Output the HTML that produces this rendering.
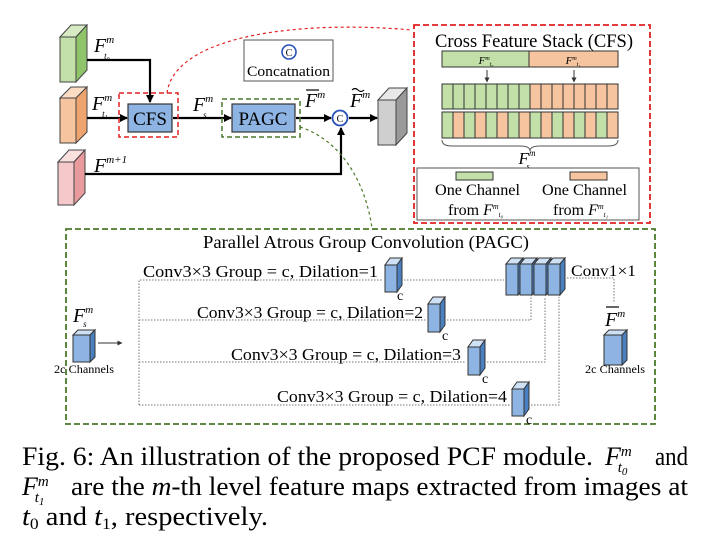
<!DOCTYPE html>
<html><head><meta charset="utf-8"><style>
html,body{margin:0;padding:0;background:#fff;}
svg{display:block;font-family:"Liberation Serif",serif;}
</style></head><body>
<svg width="704" height="553" viewBox="0 0 704 553" xmlns="http://www.w3.org/2000/svg">
<defs>
<marker id="ah" markerWidth="8" markerHeight="8" refX="7" refY="4" orient="auto" markerUnits="userSpaceOnUse"><path d="M0,0 L8,4 L0,8 z" fill="#000"/></marker>
<marker id="as" markerWidth="5" markerHeight="5" refX="4.5" refY="2.5" orient="auto" markerUnits="userSpaceOnUse"><path d="M0,0 L5,2.5 L0,5 z" fill="#333"/></marker>
</defs>

<g stroke="#444" stroke-width="1">
<polygon points="60,37 71,25 87,25 76,37" fill="#d6ebc4"/><polygon points="76,37 87,25 87,70 76,82" fill="#8fc46a"/><rect x="60" y="37" width="16" height="45" fill="#c2e0a8"/>
<polygon points="60,98 71,87 87,87 76,98" fill="#fbdcc4"/><polygon points="76,98 87,87 87,132 76,143" fill="#eea46e"/><rect x="60" y="98" width="16" height="45" fill="#f6c49e"/>
<polygon points="58,162 69,150 85,150 74,162" fill="#fbe0e0"/><polygon points="74,162 85,150 85,193 74,205" fill="#e99a9c"/><rect x="58" y="162" width="16" height="43" fill="#f5c8ca"/>
<polygon points="378,100 389,88 407,88 396,100" fill="#e8e8e8"/><polygon points="396,100 407,88 407,133 396,145" fill="#9a9a9a"/><rect x="378" y="100" width="18" height="45" fill="#cfcfcf"/>
</g>
<g stroke="#000" stroke-width="2.2" fill="none">
<polyline points="87,60 150,60 150,102" marker-end="url(#ah)"/>
<line x1="87" y1="118" x2="127" y2="118" marker-end="url(#ah)"/>
<line x1="173" y1="118" x2="231" y2="118" marker-end="url(#ah)"/>
<line x1="296" y1="118" x2="331" y2="118" marker-end="url(#ah)"/>
<line x1="349" y1="118" x2="377" y2="118" marker-end="url(#ah)"/>
<polyline points="85,174 341,174 341,128" marker-end="url(#ah)"/>
</g>
<rect x="119" y="93" width="59" height="44" fill="none" stroke="#e02020" stroke-width="1.5" stroke-dasharray="5,3"/>
<rect x="128" y="104" width="44" height="28" fill="#8db4e2" stroke="#333" stroke-width="1.2"/>
<text x="150" y="125" font-size="19" text-anchor="middle">CFS</text>
<rect x="222" y="99" width="78" height="38" fill="none" stroke="#4a7a2a" stroke-width="1.5" stroke-dasharray="5,3"/>
<rect x="232" y="104" width="63" height="28" fill="#8db4e2" stroke="#333" stroke-width="1.2"/>
<text x="263" y="125" font-size="19" text-anchor="middle">PAGC</text>
<circle cx="340" cy="118" r="7.5" fill="#fff" stroke="#2850b8" stroke-width="1.8"/>
<text x="340" y="122" font-size="10" text-anchor="middle">C</text>
<rect x="244" y="40" width="89" height="41" fill="#fff" stroke="#555" stroke-width="1"/>
<circle cx="289" cy="52" r="7" fill="#fff" stroke="#2850b8" stroke-width="1.6"/>
<text x="289" y="56" font-size="10" text-anchor="middle">C</text>
<text x="288.5" y="76" font-size="15" text-anchor="middle" textLength="83" lengthAdjust="spacingAndGlyphs">Concatnation</text>
<g font-style="italic" font-size="20">
<text x="94" y="52">F<tspan font-size="11" dy="-9">m</tspan><tspan font-size="9" dx="-10" dy="16">t₀</tspan></text>
<text x="92" y="110">F<tspan font-size="11" dy="-9">m</tspan><tspan font-size="9" dx="-10" dy="16">t₁</tspan></text>
<text x="94" y="172">F<tspan font-size="11" dy="-9">m+1</tspan></text>
<text x="193" y="111">F<tspan font-size="11" dy="-9">m</tspan><tspan font-size="9" dx="-10" dy="16">s</tspan></text>
<text x="305" y="107">F<tspan font-size="11" dy="-9">m</tspan></text>
<text x="350" y="107">F<tspan font-size="11" dy="-9">m</tspan></text>
</g>
<line x1="306" y1="90" x2="319" y2="90" stroke="#000" stroke-width="1.2"/>
<path d="M352,90 q3,-3 6,0 t6,0" stroke="#000" fill="none" stroke-width="1.2"/>
<path d="M167,93 C175,35 300,20 412,30" fill="none" stroke="#e02020" stroke-width="1.2" stroke-dasharray="3,3"/>
<path d="M300,127 C340,140 365,180 372,228" fill="none" stroke="#4a7a2a" stroke-width="1.2" stroke-dasharray="3,3"/>

<rect x="414" y="25" width="236" height="198" fill="#fff" stroke="#e02020" stroke-width="1.8" stroke-dasharray="6,3"/>
<text x="435" y="47" font-size="18.5" textLength="198" lengthAdjust="spacingAndGlyphs">Cross Feature Stack (CFS)</text>
<rect x="442" y="51" width="87" height="16" fill="#c2e0a8" stroke="#333"/>
<rect x="529" y="51" width="89" height="16" fill="#f6c49e" stroke="#333"/>
<text x="486" y="64" font-size="11" font-style="italic" text-anchor="middle">F<tspan font-size="6" dy="-4">m</tspan><tspan font-size="6" dy="6">t₀</tspan></text>
<text x="573" y="64" font-size="11" font-style="italic" text-anchor="middle">F<tspan font-size="6" dy="-4">m</tspan><tspan font-size="6" dy="6">t₁</tspan></text>
<line x1="487" y1="70" x2="487" y2="82" stroke="#333" marker-end="url(#as)"/>
<line x1="574" y1="70" x2="574" y2="82" stroke="#333" marker-end="url(#as)"/>
<g stroke="#333" stroke-width="1">
<rect x="442" y="84" width="11" height="25" fill="#c2e0a8"/><rect x="453" y="84" width="11" height="25" fill="#c2e0a8"/><rect x="464" y="84" width="11" height="25" fill="#c2e0a8"/><rect x="475" y="84" width="11" height="25" fill="#c2e0a8"/><rect x="486" y="84" width="11" height="25" fill="#c2e0a8"/><rect x="497" y="84" width="11" height="25" fill="#c2e0a8"/><rect x="508" y="84" width="11" height="25" fill="#c2e0a8"/><rect x="519" y="84" width="11" height="25" fill="#c2e0a8"/>
<rect x="530" y="84" width="11" height="25" fill="#f6c49e"/><rect x="541" y="84" width="11" height="25" fill="#f6c49e"/><rect x="552" y="84" width="11" height="25" fill="#f6c49e"/><rect x="563" y="84" width="11" height="25" fill="#f6c49e"/><rect x="574" y="84" width="11" height="25" fill="#f6c49e"/><rect x="585" y="84" width="11" height="25" fill="#f6c49e"/><rect x="596" y="84" width="11" height="25" fill="#f6c49e"/><rect x="607" y="84" width="11" height="25" fill="#f6c49e"/>
<rect x="442" y="112" width="11" height="26" fill="#c2e0a8"/><rect x="453" y="112" width="11" height="26" fill="#f6c49e"/><rect x="464" y="112" width="11" height="26" fill="#c2e0a8"/><rect x="475" y="112" width="11" height="26" fill="#f6c49e"/><rect x="486" y="112" width="11" height="26" fill="#c2e0a8"/><rect x="497" y="112" width="11" height="26" fill="#f6c49e"/><rect x="508" y="112" width="11" height="26" fill="#c2e0a8"/><rect x="519" y="112" width="11" height="26" fill="#f6c49e"/>
<rect x="530" y="112" width="11" height="26" fill="#c2e0a8"/><rect x="541" y="112" width="11" height="26" fill="#f6c49e"/><rect x="552" y="112" width="11" height="26" fill="#c2e0a8"/><rect x="563" y="112" width="11" height="26" fill="#f6c49e"/><rect x="574" y="112" width="11" height="26" fill="#c2e0a8"/><rect x="585" y="112" width="11" height="26" fill="#f6c49e"/><rect x="596" y="112" width="11" height="26" fill="#c2e0a8"/><rect x="607" y="112" width="11" height="26" fill="#f6c49e"/>
</g>
<path d="M442,140 q0,6 10,6 L520,146 q10,0 10,5 q0,-5 10,-5 L608,146 q10,0 10,-6" fill="none" stroke="#555"/>
<text x="527" y="164" font-size="17" font-style="italic" text-anchor="middle">F<tspan font-size="9" dy="-8">m</tspan><tspan font-size="8" dx="-9" dy="13">s</tspan></text>
<rect x="417" y="168" width="222" height="52" fill="#fff" stroke="#555"/>
<rect x="456" y="172" width="37" height="8" fill="#c2e0a8" stroke="#333"/>
<rect x="570" y="172" width="37" height="8" fill="#f6c49e" stroke="#333"/>
<text x="435" y="195" font-size="16" textLength="85" lengthAdjust="spacingAndGlyphs">One Channel</text>
<text x="542" y="195" font-size="16" textLength="85" lengthAdjust="spacingAndGlyphs">One Channel</text>
<text x="448" y="215" font-size="16">from <tspan font-style="italic">F<tspan font-size="8" dy="-6">m</tspan><tspan font-size="7" dy="8">t₀</tspan></tspan></text>
<text x="553" y="215" font-size="16">from <tspan font-style="italic">F<tspan font-size="8" dy="-6">m</tspan><tspan font-size="7" dy="8">t₁</tspan></tspan></text>

<rect x="66" y="229" width="589" height="195" fill="#fff" stroke="#4a7a2a" stroke-width="1.8" stroke-dasharray="6,3"/>
<text x="203" y="248" font-size="17.5" textLength="326" lengthAdjust="spacingAndGlyphs">Parallel Atrous Group Convolution (PAGC)</text>
<text x="73" y="322" font-size="20" font-style="italic">F<tspan font-size="11" dy="-9">m</tspan><tspan font-size="9" dx="-10" dy="14">s</tspan></text>
<g stroke="#333" stroke-width="1">
<polygon points="73,335 78,330 95,330 90,335" fill="#cfe2f5"/><polygon points="90,335 95,330 95,357 90,362" fill="#4a7fc0"/><rect x="73" y="335" width="17" height="27" fill="#8db4e2"/>
<polygon points="604,335 609,330 627,330 622,335" fill="#cfe2f5"/><polygon points="622,335 627,330 627,360 622,365" fill="#4a7fc0"/><rect x="604" y="335" width="18" height="30" fill="#8db4e2"/>
<polygon points="385,265 390,258 402,258 397,265" fill="#cfe2f5"/><polygon points="397,265 402,258 402,285 397,292" fill="#4a7fc0"/><rect x="385" y="265" width="12" height="27" fill="#8db4e2"/>
<polygon points="428,304 433,297 445,297 440,304" fill="#cfe2f5"/><polygon points="440,304 445,297 445,325 440,332" fill="#4a7fc0"/><rect x="428" y="304" width="12" height="28" fill="#8db4e2"/>
<polygon points="468,347 473,340 485,340 480,347" fill="#cfe2f5"/><polygon points="480,347 485,340 485,368 480,375" fill="#4a7fc0"/><rect x="468" y="347" width="12" height="28" fill="#8db4e2"/>
<polygon points="512,389 517,382 529,382 524,389" fill="#cfe2f5"/><polygon points="524,389 529,382 529,409 524,416" fill="#4a7fc0"/><rect x="512" y="389" width="12" height="27" fill="#8db4e2"/>
<polygon points="506,264 511,258 523,258 518,264" fill="#cfe2f5"/><polygon points="518,264 523,258 523,289 518,295" fill="#4a7fc0"/><rect x="506" y="264" width="12" height="31" fill="#8db4e2"/>
<polygon points="520,264 525,258 537,258 532,264" fill="#cfe2f5"/><polygon points="532,264 537,258 537,289 532,295" fill="#4a7fc0"/><rect x="520" y="264" width="12" height="31" fill="#8db4e2"/>
<polygon points="534,264 539,258 551,258 546,264" fill="#cfe2f5"/><polygon points="546,264 551,258 551,289 546,295" fill="#4a7fc0"/><rect x="534" y="264" width="12" height="31" fill="#8db4e2"/>
<polygon points="548,264 553,258 565,258 560,264" fill="#cfe2f5"/><polygon points="560,264 565,258 565,289 560,295" fill="#4a7fc0"/><rect x="548" y="264" width="12" height="31" fill="#8db4e2"/>
</g>
<text x="84" y="373" font-size="11.5" text-anchor="middle" textLength="60" lengthAdjust="spacingAndGlyphs">2c Channels</text>
<text x="615" y="373" font-size="11.5" text-anchor="middle" textLength="60" lengthAdjust="spacingAndGlyphs">2c Channels</text>
<line x1="98" y1="343" x2="122" y2="343" stroke="#333" marker-end="url(#as)"/>
<g stroke="#777" stroke-width="1" stroke-dasharray="1.5,1.5" fill="none">
<polyline points="139,405 139,280 383,280"/>
<line x1="139" y1="320" x2="426" y2="320"/>
<line x1="139" y1="362" x2="466" y2="362"/>
<line x1="139" y1="405" x2="510" y2="405"/>
<line x1="404" y1="280" x2="504" y2="280"/>
<polyline points="447,320 531,320 531,297"/>
<polyline points="487,362 545,362 545,297"/>
<polyline points="531,405 559,405 559,297"/>
<polyline points="567,278 614,278 614,302"/>
</g>
<g font-size="17">
<text x="143" y="277" textLength="235" lengthAdjust="spacingAndGlyphs">Conv3×3 Group = c, Dilation=1</text>
<text x="197" y="318" textLength="226" lengthAdjust="spacingAndGlyphs">Conv3×3 Group = c, Dilation=2</text>
<text x="231" y="360" textLength="230" lengthAdjust="spacingAndGlyphs">Conv3×3 Group = c, Dilation=3</text>
<text x="277" y="402" textLength="230" lengthAdjust="spacingAndGlyphs">Conv3×3 Group = c, Dilation=4</text>
<text x="571" y="276" font-size="15.5" textLength="65" lengthAdjust="spacingAndGlyphs">Conv1×1</text>
</g>
<g font-size="14"><text x="397" y="300">c</text><text x="442" y="340">c</text><text x="482" y="383">c</text><text x="526" y="424">c</text></g>
<text x="605" y="326" font-size="20" font-style="italic">F<tspan font-size="11" dy="-9">m</tspan></text>
<line x1="606" y1="307" x2="619" y2="307" stroke="#000" stroke-width="1.2"/>

<g font-size="26">
<text x="22" y="465" textLength="571" lengthAdjust="spacingAndGlyphs">Fig. 6: An illustration of the proposed PCF module.</text>
<text x="605" y="465" font-style="italic">F<tspan font-size="15" dy="-9">m</tspan><tspan font-size="15" dx="-14" dy="16">t</tspan><tspan font-size="11" dy="3">0</tspan></text>
<text x="655" y="465" textLength="33" lengthAdjust="spacingAndGlyphs">and</text>
<text x="22" y="495" font-style="italic">F<tspan font-size="15" dy="-9">m</tspan><tspan font-size="15" dx="-14" dy="16">t</tspan><tspan font-size="11" dy="3">1</tspan></text>
<text x="71" y="495" textLength="617" lengthAdjust="spacingAndGlyphs">are the <tspan font-style="italic">m</tspan>-th level feature maps extracted from images at</text>
<text x="22" y="525" textLength="246" lengthAdjust="spacingAndGlyphs"><tspan font-style="italic">t</tspan><tspan font-size="16" dy="4">0</tspan><tspan dy="-4"> and </tspan><tspan font-style="italic">t</tspan><tspan font-size="16" dy="4">1</tspan><tspan dy="-4">, respectively.</tspan></text>
</g>
</svg>
</body></html>
